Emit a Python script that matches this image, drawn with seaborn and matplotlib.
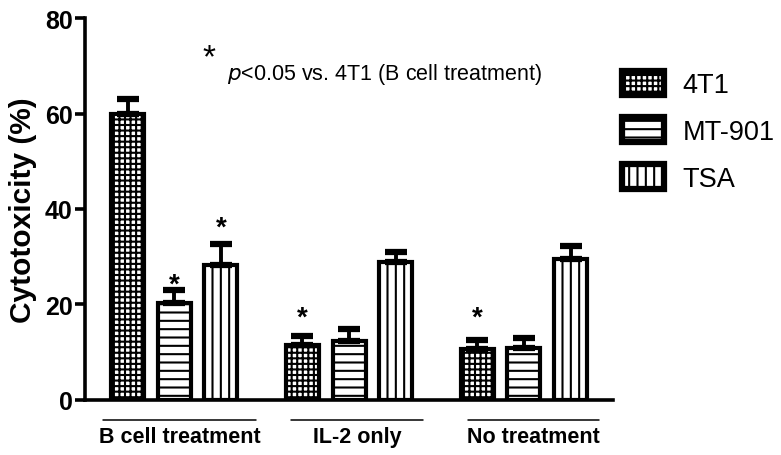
import seaborn as sns
import matplotlib.pyplot as plt
import pandas as pd

# data
groups = ["B cell treatment", "IL-2 only", "No treatment"]
cell_lines = ["4T1", "MT-901", "TSA"]
means_4t1 = [60.0, 11.5, 10.7]
means_mt901 = [20.3, 12.3, 10.9]
means_tsa = [28.3, 28.8, 29.5]
sem_4t1 = [3.0, 1.8, 1.9]
sem_mt901 = [2.7, 2.6, 2.1]
sem_tsa = [4.4, 2.1, 2.8]
# significance stars: (group index, cell line, gap above the cap)
starred = [(0, "MT-901", -1.5), (0, "TSA", 0.6), (1, "4T1", 1.2), (2, "4T1", 1.8)]

sns.set_style("ticks", rc={"axes.edgecolor": "black", "text.color": "black",
                           "axes.labelcolor": "black", "xtick.color": "black",
                           "ytick.color": "black"})
plt.rcParams['font.family'] = ['Liberation Sans', 'DejaVu Sans']
plt.rcParams['hatch.linewidth'] = 1.5

df = pd.DataFrame({
    "group": groups * 3,
    "line": [c for c in cell_lines for _ in groups],
    "value": means_4t1 + means_mt901 + means_tsa,
    "err": sem_4t1 + sem_mt901 + sem_tsa,
})

fig = plt.figure(figsize=(7.81, 4.56), dpi=100)
ax = fig.add_axes([0.109, 0.121, 0.676, 0.837])
sns.barplot(data=df, x="group", y="value", hue="line", hue_order=cell_lines,
            order=groups, errorbar=None, width=0.8, gap=0.29, ax=ax,
            palette=["white"] * 3, edgecolor="black", linewidth=3.0, legend=False)

hatches = ["+++", "--", "||"]
for cont, h in zip(ax.containers, hatches):
    for p in cont:
        p.set_hatch(h)

# error bars (upper only) and stars
for cont, line in zip(ax.containers, cell_lines):
    sub = df[df.line == line].set_index("group").loc[groups]
    xs = [p.get_x() + p.get_width() / 2 for p in cont]
    ax.errorbar(xs, sub["value"], yerr=[[0] * 3, sub["err"]], fmt="none",
                ecolor="black", elinewidth=2.8, capsize=8, capthick=4.5, zorder=1)
    for gi, (x, v, e) in enumerate(zip(xs, sub["value"], sub["err"])):
        for sg, sl, off in starred:
            if sg == gi and sl == line:
                ax.text(x, v + e + off, "*", ha="center", va="bottom",
                        fontsize=20, fontweight="bold")

ax.set_ylim(0, 80)
ax.set_xlim(-0.51, 2.51)
ax.set_yticks([0, 20, 40, 60, 80])
ax.set_yticklabels(["0", "20", "40", "60", "80"], fontsize=18, fontweight="bold")
ax.tick_params(axis="y", width=2.6, length=7, pad=2)
ax.tick_params(axis="x", length=0, pad=0)
ax.set_xticklabels([])
ax.set_xlabel("")
ax.set_ylabel("Cytotoxicity (%)", fontsize=21.5, fontweight="bold", labelpad=6)
for s in ["left", "bottom"]:
    ax.spines[s].set_linewidth(2.6)
sns.despine(ax=ax)

# group lines and labels below the axis
spans = [(-0.41, 0.47), (-0.33, 0.42), (-0.32, 0.43)]
trans = ax.get_xaxis_transform()
for gi, (name, (a, b)) in enumerate(zip(groups, spans)):
    ax.plot([gi + a, gi + b], [-0.053, -0.053], transform=trans, color="black",
            lw=1.1, clip_on=False)
    ax.text(gi + (a + b) / 2, -0.095, name, transform=trans, ha="center",
            va="center", fontsize=15.5, fontweight="bold")

ax.text(0.235, 0.895, "*", transform=ax.transAxes, fontsize=24, ha="center",
        va="center")
ax.text(0.268, 0.854, r"$\it{p}$<0.05 vs. 4T1 (B cell treatment)",
        transform=ax.transAxes, fontsize=15.5, ha="left", va="center")

handles = list(ax.containers[i][0] for i in range(3))
leg = fig.legend(handles, cell_lines, loc="upper left", bbox_to_anchor=(0.796, 0.843),
                 frameon=False, fontsize=19.5, handlelength=1.55, handleheight=1.0,
                 labelspacing=0.72, handletextpad=0.7, borderpad=0, borderaxespad=0)
for h in leg.legend_handles:
    h.set_linewidth(4.5)

plt.savefig("out.png", dpi=100)
